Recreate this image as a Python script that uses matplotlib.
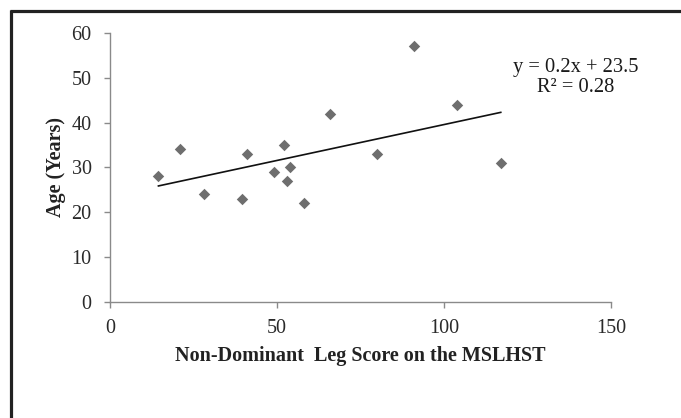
import numpy as np
import matplotlib
matplotlib.use("Agg")
import matplotlib.pyplot as plt
from matplotlib.lines import Line2D

# Data
leg_score = [14.5, 21, 28, 39.5, 41, 49, 52, 53, 54, 58, 66, 80, 91, 104, 117]
age = [28, 34, 24, 23, 33, 29, 35, 27, 30, 22, 42, 33, 57, 44, 31]
x_ticks = [0, 50, 100, 150]
y_ticks = [0, 10, 20, 30, 40, 50, 60]
eq_text = "y = 0.2x + 23.5\nR² = 0.28"

plt.rcParams['font.family'] = ['Liberation Serif', 'DejaVu Serif']

W, H = 681, 418
fig = plt.figure(figsize=(W / 100, H / 100), dpi=100)
ax = fig.add_axes([110 / W, 1 - 301.7 / H, (611 - 110) / W, (301.7 - 33) / H])

x = np.array(leg_score)
y = np.array(age)
ax.scatter(x, y, marker='D', s=34, color='#6e6e6e', zorder=3, linewidths=0)

# linear trendline
m, b = np.polyfit(x, y, 1)
xs = np.array([x.min(), x.max()])
ax.plot(xs, m * xs + b, color='#111111', lw=1.2, zorder=2)

ax.set_xlim(0, 150)
ax.set_ylim(0, 60)
ax.set_xticks(x_ticks)
ax.set_yticks(y_ticks)
for s in ['top', 'right']:
    ax.spines[s].set_visible(False)
for s in ['left', 'bottom']:
    ax.spines[s].set_color('#8a8a8a')
    ax.spines[s].set_linewidth(1.0)
ax.tick_params(direction='out', length=4.3, width=1.0, color='#8a8a8a',
               labelsize=14.5, labelcolor='#2a2a2a')
ax.tick_params(axis='x', pad=8)
ax.tick_params(axis='y', pad=9)

ax.text(139.3, 54.5, eq_text, ha='center', va='top', fontsize=14.8,
        color='#1a1a1a', linespacing=1.1)

fig.text(360 / W, 1 - 356 / H, "Non-Dominant  Leg Score on the MSLHST",
         ha='center', va='center', fontsize=14.5, fontweight='bold', color='#222222')
fig.text(56 / W, 1 - 167 / H, "Age (Years)", rotation=90,
         ha='center', va='center', fontsize=14.5, fontweight='bold', color='#222222')

# outer frame (left and top)
fig.add_artist(Line2D([10.5 / W, 10.5 / W], [0, 1 - 10 / H], color='#222222',
                      lw=2.3, transform=fig.transFigure, solid_capstyle='butt'))
fig.add_artist(Line2D([9.5 / W, 1], [1 - 11.2 / H, 1 - 11.2 / H], color='#222222',
                      lw=2.3, transform=fig.transFigure, solid_capstyle='butt'))

fig.savefig('out.png', dpi=100, facecolor='white')
